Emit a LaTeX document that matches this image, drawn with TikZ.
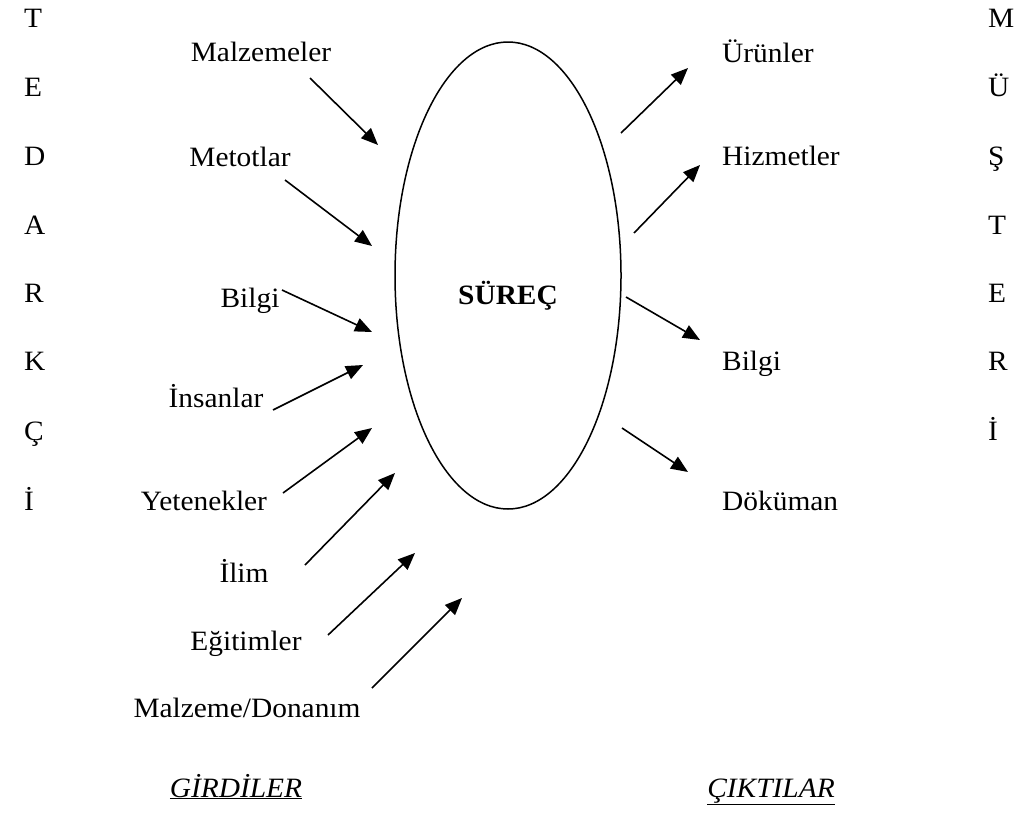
\documentclass[tikz,border=0pt]{standalone}
\usepackage{fontspec}
\setmainfont{Liberation Serif}[FakeStretch=1.05]
\usetikzlibrary{arrows.meta,shapes.geometric}
\begin{document}
\begin{tikzpicture}[x=1pt,y=-1pt,
  lbl/.style={anchor=base,inner sep=0pt,font=\fontsize{28}{34}\selectfont},
  side/.style={anchor=base west,inner sep=0pt,font=\fontsize{28}{34}\selectfont},
  arr/.style={line width=1.6pt,-{Triangle[length=17pt,width=14pt]}},
]
\useasboundingbox (0,0) rectangle (1019,833);
% process ellipse
\node[ellipse,draw,line width=1.5pt,minimum width=226pt,minimum height=467pt,inner sep=0pt] (proc) at (508,275.5) {};
\node[lbl,font=\fontsize{28}{34}\selectfont\bfseries] (surec) at (508,304) {SÜREÇ};
% left column
\foreach \l/\y [count=\i] in {T/27,E/96,D/165,A/234,R/302,K/370,Ç/440,İ/510}
  \node[side] (ted\i) at (24,\y) {\l};
% right column
\foreach \l/\y [count=\i] in {M/27,Ü/96,Ş/165,T/234,E/302,R/370,İ/440}
  \node[side] (mus\i) at (988,\y) {\l};
% input labels
\node[lbl] (in1) at (261,61) {Malzemeler};
\node[lbl] (in2) at (240,166) {Metotlar};
\node[lbl] (in3) at (250,307) {Bilgi};
\node[lbl] (in4) at (216,407) {İnsanlar};
\node[lbl] (in5) at (204,510) {Yetenekler};
\node[lbl] (in6) at (244,582) {İlim};
\node[lbl] (in7) at (246,650) {Eğitimler};
\node[lbl] (in8) at (247,717) {Malzeme/Donanım};
% output labels
\node[side] (out1) at (722,62) {Ürünler};
\node[side] (out2) at (722,165) {Hizmetler};
\node[side] (out3) at (722,370) {Bilgi};
\node[side] (out4) at (722,510) {Döküman};
% headings
\node[lbl] (gir) at (236,797) {\underline{\textit{GİRDİLER}}};
\node[lbl] (cik) at (771,797) {\underline{\textit{ÇIKTILAR}}};
% arrow end points
\coordinate (a1s) at (310,78);  \coordinate (a1e) at (378,145);
\coordinate (a2s) at (285,180); \coordinate (a2e) at (372,246);
\coordinate (a3s) at (282,290); \coordinate (a3e) at (372,332);
\coordinate (a4s) at (273,410); \coordinate (a4e) at (363,365);
\coordinate (a5s) at (283,493); \coordinate (a5e) at (372,428);
\coordinate (a6s) at (305,565); \coordinate (a6e) at (395,473);
\coordinate (a7s) at (328,635); \coordinate (a7e) at (415,553);
\coordinate (a8s) at (372,688); \coordinate (a8e) at (462,598);
\coordinate (b1s) at (621,133); \coordinate (b1e) at (688,68);
\coordinate (b2s) at (634,233); \coordinate (b2e) at (700,165);
\coordinate (b3s) at (626,297); \coordinate (b3e) at (700,340);
\coordinate (b4s) at (622,428); \coordinate (b4e) at (688,472);
\foreach \i in {1,...,8} \draw[arr] (a\i s) -- (a\i e);
\foreach \i in {1,...,4} \draw[arr] (b\i s) -- (b\i e);
\end{tikzpicture}
\end{document}
